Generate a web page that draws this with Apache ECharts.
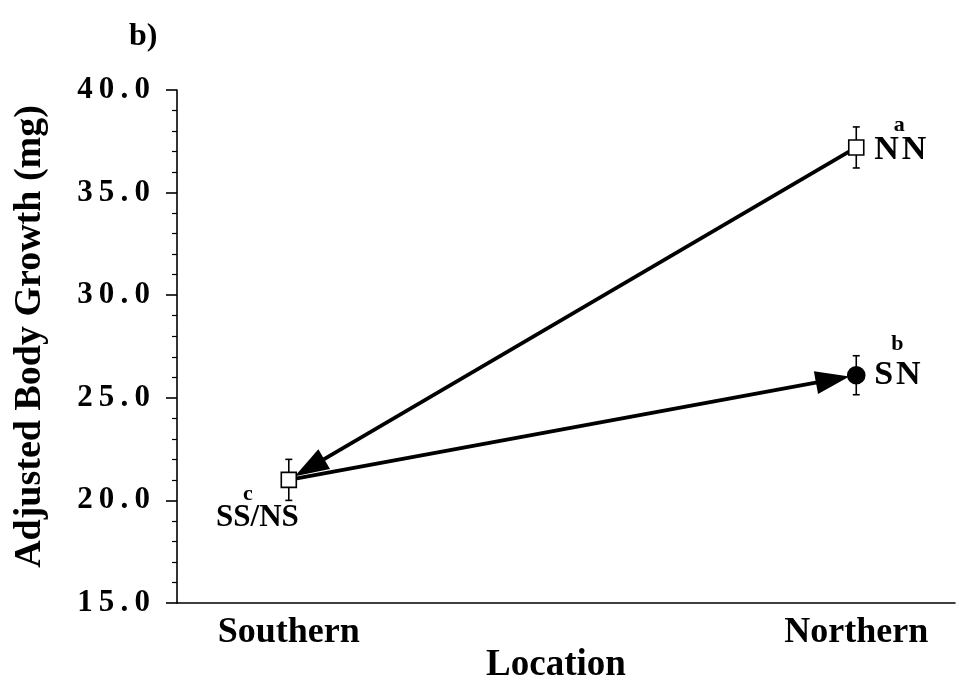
<!DOCTYPE html>
<html>
<head>
<meta charset="utf-8">
<script src="https://cdn.jsdelivr.net/npm/echarts@6/dist/echarts.min.js"></script>
<style>
html,body{margin:0;padding:0;background:#fff;}
#chart{width:956px;height:683px;}
</style>
</head>
<body>
<div id="chart"></div>
<script>
// ---- data ----
const locations = ['Southern', 'Northern'];
const groupNames = ['SS/NS', 'NN', 'SN'];
const groupLocation = [0, 1, 1];          // index into locations
const groupMeans = [21.0, 37.2, 26.1];
const groupErrors = [1.0, 1.0, 0.95];
const groupLetters = ['c', 'a', 'b'];
const arrowFrom = ['NN', 'SS/NS'];
const arrowTo = ['SS/NS', 'SN'];
const yTicks = [15, 20, 25, 30, 35, 40];

// ---- styles (not data) ----
const FONT = '"Liberation Serif", "Times New Roman", serif';
const markerStyle = {
  'SS/NS': {symbol: 'rect', size: 15, fill: '#fff'},
  'NN': {symbol: 'rect', size: 15, fill: '#fff'},
  'SN': {symbol: 'circle', size: 17, fill: '#000'}
};
const labelLayout = {
  'SS/NS': {dx: 10, dy: 38, align: 'right', size: 31, ldx: -41, ldy: 14},
  'NN': {dx: 18, dy: 3, align: 'left', size: 34, ldx: 43, ldy: -22},
  'SN': {dx: 18, dy: 0, align: 'left', size: 34, ldx: 41, ldy: -31}
};
const labelText = {'SS/NS': 'SS/NS', 'NN': 'N\u200AN', 'SN': 'S\u200AN'};

function gIdx(name) { return groupNames.indexOf(name); }

const pointData = groupNames.map((n, i) => ({
  value: [groupLocation[i], groupMeans[i]],
  name: n,
  symbol: markerStyle[n].symbol,
  symbolSize: markerStyle[n].size,
  itemStyle: {color: markerStyle[n].fill, borderColor: '#000', borderWidth: 1.6, opacity: 1}
}));

const errData = groupNames.map((n, i) => [groupLocation[i], groupMeans[i] - groupErrors[i], groupMeans[i] + groupErrors[i]]);

const arrowData = arrowFrom.map((f, i) => {
  const a = gIdx(f), b = gIdx(arrowTo[i]);
  return [groupLocation[a], groupMeans[a], groupLocation[b], groupMeans[b]];
});

const labelData = groupNames.map((n, i) => [groupLocation[i], groupMeans[i], i]);

const chart = echarts.init(document.getElementById('chart'), null, {renderer: 'canvas'});

chart.setOption({
  backgroundColor: '#fff',
  animation: false,
  grid: {left: 177, right: 1, top: 90, bottom: 80, containLabel: false, outerBoundsMode: 'none'},
  xAxis: {
    type: 'value',
    min: -0.197, max: 1.174,
    splitLine: {show: false},
    axisLine: {show: true, onZero: false, lineStyle: {color: '#000', width: 1.6}},
    axisTick: {show: false},
    axisLabel: {
      customValues: [0, 1],
      formatter: v => locations[Math.round(v)],
      fontFamily: FONT, fontWeight: 'bold', fontSize: 36, color: '#000', margin: 12
    },
    name: 'Location', nameLocation: 'middle', nameGap: 44, nameMoveOverlap: false,
    nameTextStyle: {fontFamily: FONT, fontWeight: 'bold', fontSize: 37, color: '#000', padding: [0, 20, 0, 0]}
  },
  yAxis: {
    type: 'value',
    min: yTicks[0], max: yTicks[yTicks.length - 1], interval: 5,
    splitLine: {show: false},
    axisLine: {show: true, onZero: false, lineStyle: {color: '#000', width: 1.6}},
    axisTick: {show: true, length: 11, lineStyle: {color: '#000', width: 1.6}},
    minorTick: {show: true, splitNumber: 5, length: 5, lineStyle: {color: '#000', width: 1.2}},
    axisLabel: {
      formatter: v => v.toFixed(1).split('').join('\u2009'),
      fontFamily: FONT, fontWeight: 'bold', fontSize: 31, color: '#000', margin: 27
    },
    name: 'Adjusted Body Growth (mg)', nameLocation: 'middle', nameGap: 128, nameMoveOverlap: false,
    nameTextStyle: {fontFamily: FONT, fontWeight: 'bold', fontSize: 38, color: '#000', padding: [0, 0, 0, 20]}
  },
  graphic: [{
    type: 'text', left: 129, top: 21,
    style: {text: 'b)', font: 'bold 32px ' + FONT, fill: '#000'}
  }],
  series: [
    {
      type: 'custom', z: 2,
      encode: {x: [0, 2], y: [1, 3]},
      data: arrowData,
      renderItem: function (params, api) {
        const p0 = api.coord([api.value(0), api.value(1)]);
        const p1 = api.coord([api.value(2), api.value(3)]);
        const dx = p1[0] - p0[0], dy = p1[1] - p0[1];
        const L = Math.sqrt(dx * dx + dy * dy);
        const ux = dx / L, uy = dy / L;
        const px = -uy, py = ux;
        const tip = [p1[0] - ux * 7, p1[1] - uy * 7];
        const base = [tip[0] - ux * 34, tip[1] - uy * 34];
        return {
          type: 'group',
          children: [
            {type: 'line', shape: {x1: p0[0], y1: p0[1], x2: base[0] + ux * 4, y2: base[1] + uy * 4},
             style: {stroke: '#000', lineWidth: 3.8}},
            {type: 'polygon', shape: {points: [tip, [base[0] + px * 11.5, base[1] + py * 11.5], [base[0] - px * 11.5, base[1] - py * 11.5]]},
             style: {fill: '#000'}}
          ]
        };
      }
    },
    {
      type: 'custom', z: 3,
      encode: {x: 0, y: [1, 2]},
      data: errData,
      renderItem: function (params, api) {
        const lo = api.coord([api.value(0), api.value(1)]);
        const hi = api.coord([api.value(0), api.value(2)]);
        const w = 3.5;
        const st = {stroke: '#000', lineWidth: 1.6};
        return {
          type: 'group',
          children: [
            {type: 'line', shape: {x1: lo[0], y1: lo[1], x2: hi[0], y2: hi[1]}, style: st},
            {type: 'line', shape: {x1: lo[0] - w, y1: lo[1], x2: lo[0] + w, y2: lo[1]}, style: st},
            {type: 'line', shape: {x1: hi[0] - w, y1: hi[1], x2: hi[0] + w, y2: hi[1]}, style: st}
          ]
        };
      }
    },
    {
      type: 'scatter', z: 4,
      itemStyle: {opacity: 1},
      data: pointData
    },
    {
      type: 'custom', z: 5,
      encode: {x: 0, y: 1},
      data: labelData,
      renderItem: function (params, api) {
        const p = api.coord([api.value(0), api.value(1)]);
        const n = groupNames[api.value(2)];
        const L = labelLayout[n];
        return {
          type: 'group',
          children: [
            {type: 'text', x: p[0] + L.dx, y: p[1] + L.dy,
             style: {text: labelText[n], font: 'bold ' + L.size + 'px ' + FONT, fill: '#000', align: L.align, verticalAlign: 'middle'}},
            {type: 'text', x: p[0] + L.ldx, y: p[1] + L.ldy,
             style: {text: groupLetters[api.value(2)], font: 'bold 22px ' + FONT, fill: '#000', align: 'center', verticalAlign: 'middle'}}
          ]
        };
      }
    }
  ]
});
</script>
</body>
</html>
